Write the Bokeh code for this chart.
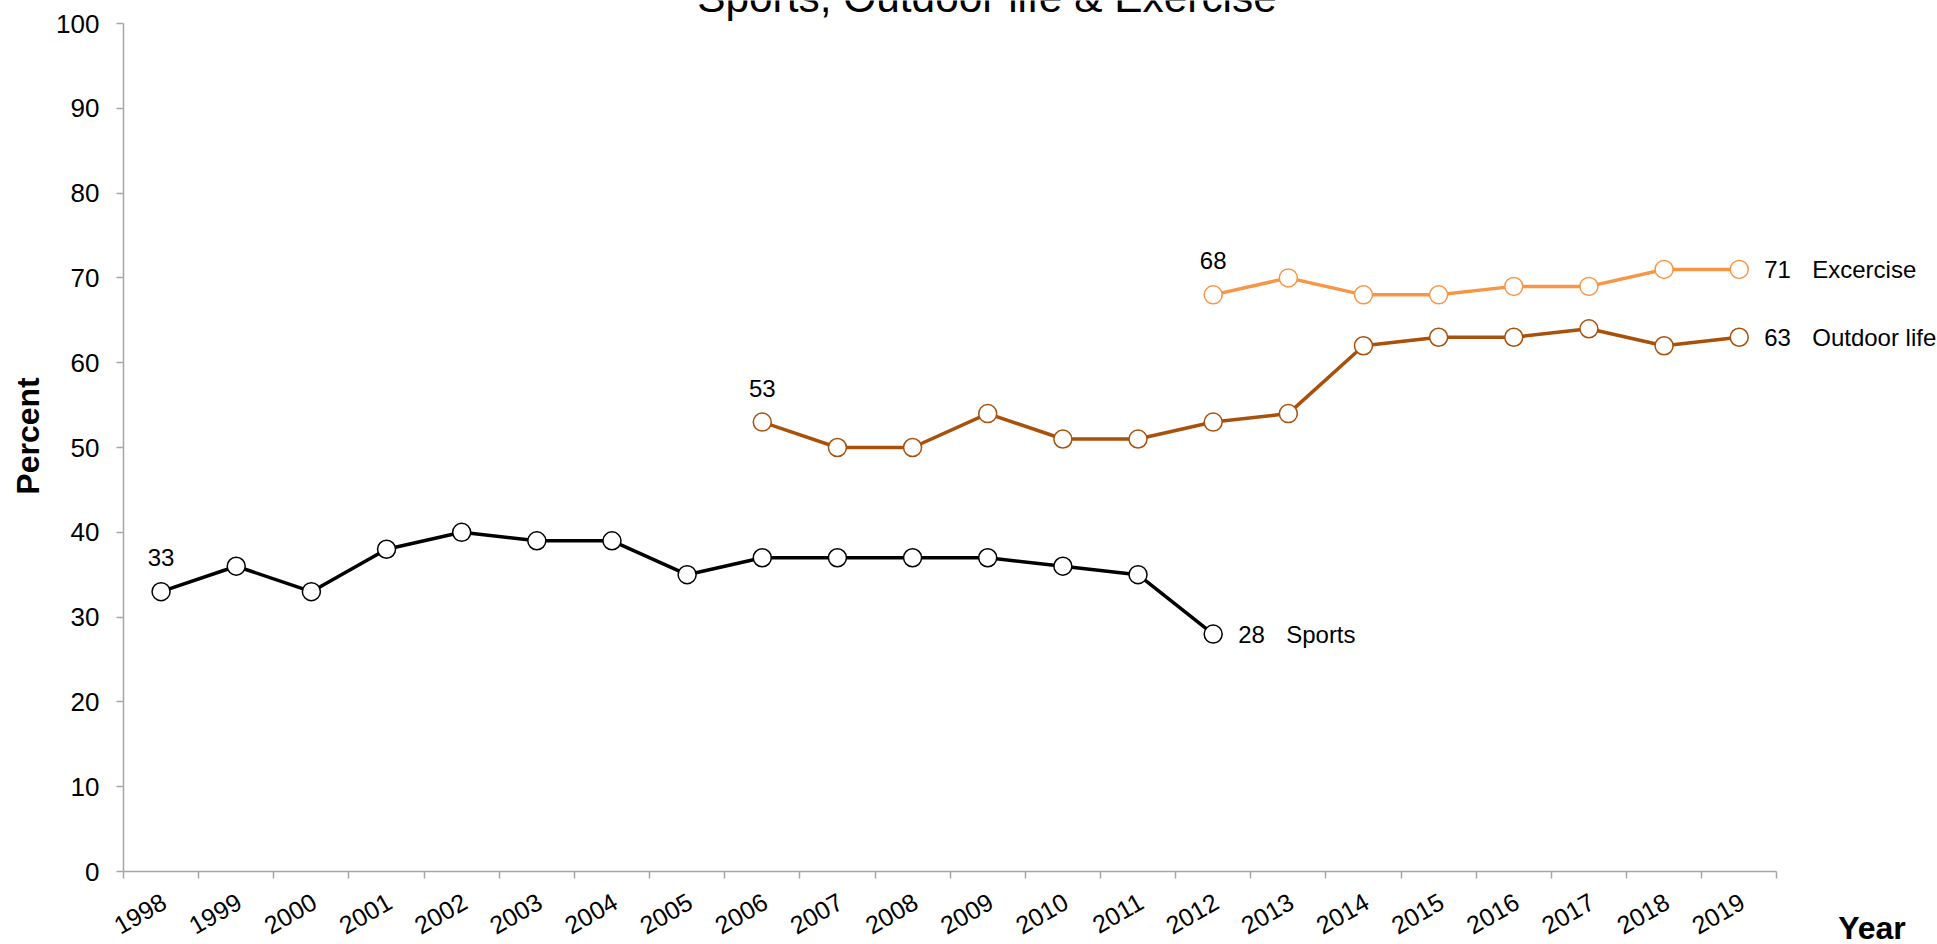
import math
from bokeh.plotting import figure
from bokeh.layouts import row
from bokeh.models import Range1d, FixedTicker, Label, CustomJSTickFormatter, LinearAxis
from bokeh.core.properties import value
from bokeh.embed import file_html
from bokeh.resources import INLINE

# ---- data ----
title_text = "Sports, Outdoor life & Exercise"
series_names = ["Sports", "Outdoor life", "Excercise"]
sports_years = [1998, 1999, 2000, 2001, 2002, 2003, 2004, 2005, 2006, 2007, 2008, 2009, 2010, 2011, 2012]
sports_values = [33, 36, 33, 38, 40, 39, 39, 35, 37, 37, 37, 37, 36, 35, 28]
outdoor_years = [2006, 2007, 2008, 2009, 2010, 2011, 2012, 2013, 2014, 2015, 2016, 2017, 2018, 2019]
outdoor_values = [53, 50, 50, 54, 51, 51, 53, 54, 62, 63, 63, 64, 62, 63]
exercise_years = [2012, 2013, 2014, 2015, 2016, 2017, 2018, 2019]
exercise_values = [68, 70, 68, 68, 69, 69, 71, 71]
year_ticks = [1998, 1999, 2000, 2001, 2002, 2003, 2004, 2005, 2006, 2007, 2008,
              2009, 2010, 2011, 2012, 2013, 2014, 2015, 2016, 2017, 2018, 2019]
y_ticks = [0, 10, 20, 30, 40, 50, 60, 70, 80, 90, 100]
x_axis_title = "Year"
y_axis_title = "Percent"

colors = ["#000000", "#A9500B", "#F79646"]
FONT = "Liberation Sans"
AXIS_GRAY = "#A6A6A6"

# ---- layout geometry (pixels) ----
W1, W2, H = 1806, 131, 948
LEFT, PLOT_TOP, BOTTOM = 123, 23, 77       # y=100 sits PLOT_TOP px below canvas top
PX_PER_YEAR = 75.15
PX_PER_UNIT = (H - BOTTOM - PLOT_TOP) / (y_ticks[-1] - y_ticks[0])
x0 = year_ticks[0] - 0.5
x1 = x0 + (W1 - LEFT) / PX_PER_YEAR
y_top = y_ticks[-1] + PLOT_TOP / PX_PER_UNIT
LABEL_SHIFT = 0.04
NAME_OFFSET = 73
VALUE_OFFSET = 25
YEAR_TITLE_CENTER_PX = 1839.5

p = figure(width=W1, height=H,
           x_range=Range1d(x0, x1),
           y_range=Range1d(y_ticks[0], y_top),
           output_backend="svg", toolbar_location=None,
           min_border_left=LEFT, min_border_right=0,
           min_border_top=0, min_border_bottom=BOTTOM)
p.outline_line_color = None
p.xgrid.grid_line_color = None
p.ygrid.grid_line_color = None
p.background_fill_color = "white"
p.border_fill_color = "white"

# x axis: labels at year centres, tick marks between years
xa = p.xaxis[0]
xa.bounds = (year_ticks[0] - 0.5, year_ticks[-1] + 0.5)
xa.ticker = FixedTicker(ticks=[y + LABEL_SHIFT for y in year_ticks],
                        minor_ticks=[y - 0.5 for y in year_ticks] + [year_ticks[-1] + 0.5])
xa.formatter = CustomJSTickFormatter(code="return String(Math.round(tick - %s))" % LABEL_SHIFT)
xa.major_tick_line_color = None
xa.major_tick_out = 0
xa.major_tick_in = 0
xa.minor_tick_line_color = AXIS_GRAY
xa.minor_tick_line_width = 1.5
xa.minor_tick_in = 0
xa.minor_tick_out = 7
xa.axis_line_color = AXIS_GRAY
xa.axis_line_width = 1.5
xa.major_label_orientation = math.radians(30)
xa.major_label_text_font = FONT
xa.major_label_text_font_size = "25px"
xa.major_label_text_color = "black"
xa.major_label_standoff = 21

ya = p.yaxis[0]
ya.bounds = (y_ticks[0], y_ticks[-1])
ya.ticker = FixedTicker(ticks=y_ticks)
ya.major_tick_line_color = AXIS_GRAY
ya.major_tick_line_width = 1.5
ya.major_tick_in = 0
ya.major_tick_out = 7
ya.minor_tick_line_color = None
ya.axis_line_color = AXIS_GRAY
ya.axis_line_width = 1.5
ya.major_label_text_font = FONT
ya.major_label_text_font_size = "26px"
ya.major_label_text_color = "black"
ya.major_label_standoff = 17
ya.axis_label = y_axis_title
ya.axis_label_text_font = FONT
ya.axis_label_text_font_size = "32px"
ya.axis_label_text_font_style = "bold"
ya.axis_label_text_color = "black"
ya.axis_label_standoff = 7

# right-hand strip (same vertical scale): series names past the axis end, and the x-axis title
q = figure(width=W2, height=H,
           x_range=Range1d(-1, 1),
           y_range=Range1d(y_ticks[0], y_top),
           x_axis_location=None, y_axis_location=None,
           output_backend="svg", toolbar_location=None,
           min_border_left=0, min_border_right=0, min_border_top=0, min_border_bottom=BOTTOM)
q.xgrid.grid_line_color = None
q.ygrid.grid_line_color = None
q.outline_line_color = None
q.background_fill_color = "white"
q.border_fill_color = "white"
q_center_px = W1 + W2 / 2.0

# the "Year" axis title, carried by an invisible axis whose (hidden) rule is
# centred where the title sits in the original
cx = -1 + (YEAR_TITLE_CENTER_PX - W1) * 2.0 / W2
qa = LinearAxis(ticker=FixedTicker(ticks=[]), axis_label=x_axis_title,
                bounds=(cx - 0.3, cx + 0.3))
qa.axis_line_color = None
qa.major_tick_line_color = None
qa.minor_tick_line_color = None
qa.major_tick_out = 0
qa.major_tick_in = 0
qa.minor_tick_out = 0
qa.minor_tick_in = 0
qa.major_label_standoff = 0
qa.axis_label_standoff = 38
qa.axis_label_text_font = FONT
qa.axis_label_text_font_size = "32px"
qa.axis_label_text_font_style = "bold"
qa.axis_label_text_color = "black"
q.add_layout(qa, "below")

all_series = [(sports_years, sports_values), (outdoor_years, outdoor_values), (exercise_years, exercise_values)]
for (xs, ys), name, c in zip(all_series, series_names, colors):
    p.line(xs, ys, line_color=c, line_width=3.5)
    p.scatter(xs, ys, size=18, fill_color="white", line_color=c, line_width=1.5)
    # first value above the first point
    p.text(x=[xs[0]], y=[ys[0]], text=[str(ys[0])], text_align="center",
           text_baseline="alphabetic", y_offset=-34,
           text_font=value(FONT), text_font_size="24px", text_color="black")
    # last value to the right of the last point
    p.text(x=[xs[-1]], y=[ys[-1]], text=[str(ys[-1])], text_align="left",
           text_baseline="middle", x_offset=VALUE_OFFSET,
           text_font=value(FONT), text_font_size="24px", text_color="black")
    # series name further right
    last_px = LEFT + (xs[-1] - x0) * PX_PER_YEAR
    if xs[-1] == year_ticks[-1]:
        q.text(x=[0], y=[ys[-1]], text=[name], text_align="left",
               text_baseline="middle", x_offset=last_px + NAME_OFFSET - q_center_px,
               text_font=value(FONT), text_font_size="24px", text_color="black")
    else:
        p.text(x=[xs[-1]], y=[ys[-1]], text=[name], text_align="left",
               text_baseline="middle", x_offset=NAME_OFFSET,
               text_font=value(FONT), text_font_size="24px", text_color="black")

# chart title (top of it runs off the page, as in the original)
p.add_layout(Label(x=2008.99, y=y_ticks[-1] + (PLOT_TOP + 3) / PX_PER_UNIT, text=title_text,
                   text_align="center", text_baseline="middle", text_font=FONT,
                   text_font_size="42.4px", text_color="black"))

layout = row(p, q)
open("out.html", "w").write(file_html(layout, INLINE))
